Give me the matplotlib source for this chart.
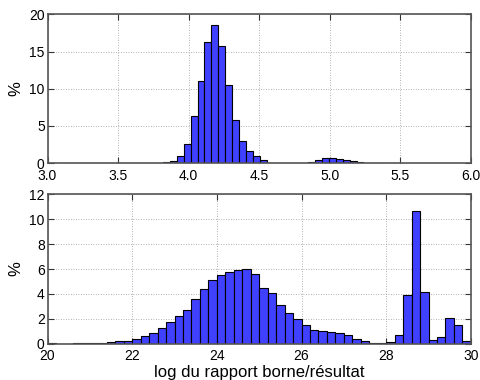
import numpy as np
import matplotlib
matplotlib.use('Agg')
from matplotlib import pyplot as plt

plt.rcParams['font.family'] = ['Liberation Sans', 'DejaVu Sans']

# histogramme du haut : log du rapport (echelle 3 - 6)
haut_debut = 3.132
haut_largeur = 0.049
haut_pct = [0.03, 0, 0, 0, 0, 0, 0, 0, 0, 0, 0, 0, 0, 0,
            0.1, 0.3, 1.0, 2.5, 6.3, 11.1, 16.3, 18.6, 15.7, 10.5, 5.8, 3.0,
            1.6, 0.95, 0.45, 0.05, 0.05, 0.05, 0, 0, 0.03, 0.15, 0.45, 0.7,
            0.7, 0.6, 0.4, 0.25, 0.1, 0.05, 0.05]

# histogramme du bas : log du rapport borne/resultat (echelle 20 - 30)
bas_debut = 20.0
bas_largeur = 0.2
bas_pct = [0.03, 0.01, 0.01, 0.03, 0.04, 0.05, 0.07, 0.12, 0.2, 0.25,
           0.4, 0.65, 0.9, 1.25, 1.75, 2.25, 2.7, 3.6, 4.4, 5.1,
           5.55, 5.8, 5.95, 6.0, 5.57, 4.5, 4.07, 3.1, 2.44, 1.98,
           1.53, 1.1, 1.02, 0.94, 0.88, 0.72, 0.37, 0.24, 0.05, 0.05,
           0.16, 0.7, 3.94, 10.69, 4.12, 0.27, 0.5, 2.04, 1.53, 0.19]

fig = plt.figure(figsize=(4.8, 3.8), dpi=100)
ax1 = fig.add_axes([0.099, 0.571, 0.882, 0.391])
ax2 = fig.add_axes([0.099, 0.0955, 0.882, 0.393])

couleur = (0.25, 0.25, 1.0)

x1 = haut_debut + haut_largeur * np.arange(len(haut_pct))
ax1.bar(x1, haut_pct, width=haut_largeur, align='edge', color=couleur,
        edgecolor='black', linewidth=0.8)
x2 = bas_debut + bas_largeur * np.arange(len(bas_pct))
ax2.bar(x2, bas_pct, width=bas_largeur, align='edge', color=couleur,
        edgecolor='black', linewidth=0.8)

ax1.set_xlim(3.0, 6.0)
ax1.set_ylim(0, 20)
ax1.set_xticks(np.arange(3.0, 6.01, 0.5))
ax1.set_xticklabels(['%.1f' % v for v in np.arange(3.0, 6.01, 0.5)])
ax1.set_yticks([0, 5, 10, 15, 20])
ax1.set_ylabel('%', fontsize=12)

ax2.set_xlim(20, 30)
ax2.set_ylim(0, 12)
ax2.set_xticks(range(20, 31, 2))
ax2.set_yticks(range(0, 13, 2))
ax2.set_ylabel('%', fontsize=12)
ax2.set_xlabel('log du rapport borne/résultat', fontsize=12, labelpad=1)

for ax in (ax1, ax2):
    ax.set_axisbelow(True)
    ax.grid(True, color='#999999', linestyle=(0, (1, 2)), linewidth=0.6)
    ax.tick_params(direction='in', top=True, right=True, length=4,
                   width=0.8, labelsize=10, pad=2, color='#333333')
    ax.tick_params(axis='x', pad=4)
    for s in ax.spines.values():
        s.set_color('#555555')
        s.set_linewidth(1.2)

fig.savefig('out.png', dpi=100)
